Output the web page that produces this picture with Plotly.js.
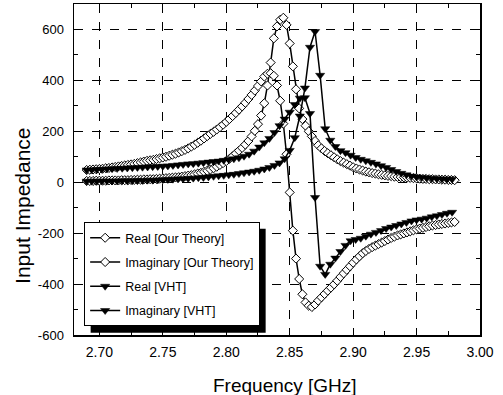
<!DOCTYPE html>
<html>
<head>
<meta charset="utf-8">
<script src="https://cdn.plot.ly/plotly-3.0.1.min.js"></script>
<style>html,body{margin:0;padding:0;background:#fff;}#chart{width:503px;height:395px;}</style>
</head>
<body>
<div id="chart"></div>
<script>
// ---- data ----
var freqTheory = [
2.69,2.6925,2.695,2.6975,2.7,2.7025,2.705,2.7075,2.71,2.7125,
2.715,2.7175,2.72,2.7225,2.725,2.7275,2.73,2.7325,2.735,2.7375,
2.74,2.7425,2.745,2.7475,2.75,2.7525,2.755,2.7575,2.76,2.7625,
2.765,2.7675,2.77,2.7725,2.775,2.7775,2.78,2.7825,2.785,2.7875,
2.79,2.7925,2.795,2.7975,2.8,2.8025,2.805,2.8075,2.81,2.8125,
2.815,2.8175,2.82,2.8225,2.825,2.8275,2.83,2.8325,2.835,2.8375,
2.84,2.8425,2.845,2.8475,2.85,2.8525,2.855,2.8575,2.86,2.8625,
2.865,2.8675,2.87,2.8725,2.875,2.8775,2.88,2.8825,2.885,2.8875,
2.89,2.8925,2.895,2.8975,2.9,2.9025,2.905,2.9075,2.91,2.9125,
2.915,2.9175,2.92,2.9225,2.925,2.9275,2.93,2.9325,2.935,2.9375,
2.94,2.9425,2.945,2.9475,2.95,2.9525,2.955,2.9575,2.96,2.9625,
2.965,2.9675,2.97,2.9725,2.975,2.9775,2.98];

var realTheory = [
5,5,5,6,6,6,6,7,7,7,
7,8,8,8,9,9,10,10,11,11,
12,12,13,14,15,16,17,18,19,20,
22,24,26,28,31,34,37,41,45,50,
55,61,68,75,83,92,102,113,124,135,
148,162,180,202,228,262,310,380,470,565,
612,638,646,618,545,455,365,290,248,222,
200,180,162,145,133,123,114,106,98,90,
83,77,71,65,59,54,50,46,42,39,
36,34,31,29,27,25,24,22,21,20,
19,18,17,16,15,14,13,13,12,12,
11,11,10,10,9,9,8];

var imagTheory = [
48,49,50,51,52,53,55,56,58,60,
62,64,66,68,70,72,75,78,81,84,
86,88,91,94,97,100,104,108,112,117,
122,127,133,140,147,155,163,172,181,190,
198,207,216,226,237,248,260,272,285,298,
312,327,343,360,378,396,415,426,428,418,
380,320,230,110,-40,-190,-300,-380,-440,-472,
-485,-490,-480,-465,-452,-439,-426,-414,-401,-387,
-372,-358,-344,-330,-316,-303,-291,-279,-270,-262,
-255,-249,-243,-237,-231,-225,-219,-214,-209,-205,
-201,-197,-193,-189,-185,-182,-179,-176,-173,-170,
-168,-166,-164,-162,-160,-158,-156];

var freqVHT = [
2.690,2.694,2.698,2.702,2.706,2.710,2.714,2.718,2.722,2.726,
2.730,2.734,2.738,2.742,2.746,2.750,2.754,2.758,2.762,2.766,
2.770,2.774,2.778,2.782,2.786,2.790,2.794,2.798,2.802,2.806,
2.810,2.814,2.818,2.822,2.826,2.830,2.834,2.838,2.842,2.846,
2.850,2.854,2.858,2.862,2.866,2.870,2.874,2.878,2.882,2.886,
2.890,2.894,2.898,2.902,2.906,2.910,2.914,2.918,2.922,2.926,
2.930,2.934,2.938,2.942,2.946,2.950,2.954,2.958,2.962,2.966,
2.970,2.974,2.978];

var realVHT = [
4,4,4,5,5,5,5,6,6,6,
7,7,8,8,9,10,11,12,13,14,
15,16,18,19,21,23,25,27,29,31,
34,37,40,43,47,52,58,66,76,92,
125,175,260,370,530,592,420,210,165,140,
124,116,106,97,90,84,78,72,65,58,
50,42,35,29,24,21,19,17,15,14,
13,12,12];

var imagVHT = [
48,49,50,51,52,53,54,55,56,57,
58,59,60,61,62,63,64,66,68,70,
72,73,75,77,79,81,83,86,89,92,
96,102,110,122,138,155,172,195,222,248,
275,305,330,332,270,-60,-330,-362,-322,-298,
-272,-248,-230,-225,-220,-212,-204,-197,-190,-182,
-176,-170,-164,-158,-152,-148,-145,-141,-136,-132,
-127,-122,-118];

var seriesNames = ["Real [Our Theory]", "Imaginary [Our Theory]", "Real [VHT]", "Imaginary [VHT]"];
var xTitle = "Frequency [GHz]";
var yTitle = "Input Impedance";
var xTickVals = [2.70, 2.75, 2.80, 2.85, 2.90, 2.95, 3.00];
var xTickText = ["2.70", "2.75", "2.80", "2.85", "2.90", "2.95", "3.00"];
var yTickVals = [-600, -400, -200, 0, 200, 400, 600];
var yTickText = ["-600", "-400", "-200", "0", "200", "400", "600"];

// ---- styles ----
var FONT = "Liberation Sans, Arial, Helvetica, sans-serif";
var diamondFilled = {symbol: "diamond", size: 7, color: "#fff", line: {color: "#000", width: 1}};
var tri = {symbol: "triangle-down", size: 8, color: "#000", line: {color: "#000", width: 0.5}};

var traces = [
  {x: freqTheory, y: realTheory, name: seriesNames[0], legendgroup: "a", mode: "lines+markers",
   line: {color: "#000", width: 1.5}, marker: diamondFilled},
  {x: freqTheory, y: imagTheory, name: seriesNames[1], legendgroup: "b", mode: "lines+markers",
   line: {color: "#000", width: 1.5}, marker: diamondFilled},
  {x: freqVHT, y: realVHT, name: seriesNames[2], legendgroup: "c", mode: "lines+markers",
   line: {color: "#000", width: 1.5}, marker: tri},
  {x: freqVHT, y: imagVHT, name: seriesNames[3], legendgroup: "d", mode: "lines+markers",
   line: {color: "#000", width: 1.5}, marker: tri}
];

var axisCommon = {
  showline: true, linecolor: "#000", linewidth: 1.5, mirror: "allticks",
  ticks: "inside", ticklen: 6, tickwidth: 1, tickcolor: "#000",
  showgrid: true, gridcolor: "#000", gridwidth: 1, griddash: "dash",
  zeroline: false, tickmode: "array"
};

var ML = 74, MR = 23, MT = 4, MB = 60, W = 503, H = 395;
var PW = W - ML - MR, PH = H - MT - MB;

var layout = {
  width: W, height: H,
  margin: {l: ML, r: MR, t: MT, b: MB},
  paper_bgcolor: "#fff", plot_bgcolor: "#fff",
  font: {family: FONT, color: "#000"},
  showlegend: true,
  xaxis: Object.assign({}, axisCommon, {
    range: [2.68, 3.00], tickvals: xTickVals, ticktext: xTickText,
    tickfont: {size: 14, family: FONT}, ticklabelstandoff: 4,
    minor: {dtick: 0.025, tick0: 2.70, ticks: "inside", ticklen: 4, tickcolor: "#000", showgrid: false}
  }),
  yaxis: Object.assign({}, axisCommon, {
    range: [-600, 700], tickvals: yTickVals, ticktext: yTickText,
    tickfont: {size: 13, family: FONT}, ticklabelstandoff: 6,
    minor: {dtick: 100, tick0: 0, ticks: "inside", ticklen: 4, tickcolor: "#000", showgrid: false}
  }),
  annotations: [
    {text: xTitle, xref: "paper", yref: "paper", x: 0.52, y: 0, xanchor: "center", yanchor: "middle",
     yshift: -50, showarrow: false, font: {size: 19, family: FONT}},
    {text: yTitle, xref: "paper", yref: "paper", x: 0, y: 0.39, xanchor: "center", yanchor: "middle",
     xshift: -51, textangle: -90, showarrow: false, font: {size: 21, family: FONT}}
  ],
  legend: {
    x: 0.025, y: 0.341, xanchor: "left", yanchor: "top",
    bgcolor: "#fff", bordercolor: "#000", borderwidth: 1,
    font: {size: 12.5, family: FONT}, tracegroupgap: 5, traceorder: "grouped"
  },
  shapes: [
    {type: "rect", xref: "paper", yref: "paper", x0: 0.04, x1: 0.48, y0: 0.02, y1: 0.32,
     fillcolor: "#000", line: {width: 0}, layer: "above"}
  ]
};

var gd = document.getElementById("chart");
Plotly.newPlot(gd, traces, layout, {staticPlot: true, displayModeBar: false}).then(function () {
  var bg = gd.querySelector(".legend .bg");
  if (!bg) return;
  var r = bg.getBoundingClientRect(), c = gd.getBoundingClientRect();
  var left = r.left - c.left, right = r.right - c.left, top = r.top - c.top, bottom = r.bottom - c.top;
  // drop shadow offset to the lower right of the legend box
  var sx0 = left + 6, sx1 = right + 6, sy0 = top + 6, sy1 = bottom + 7;
  return Plotly.relayout(gd, {
    "shapes[0].x0": (sx0 - ML) / PW, "shapes[0].x1": (sx1 - ML) / PW,
    "shapes[0].y0": (MT + PH - sy1) / PH, "shapes[0].y1": (MT + PH - sy0) / PH
  });
});
</script>
</body>
</html>
